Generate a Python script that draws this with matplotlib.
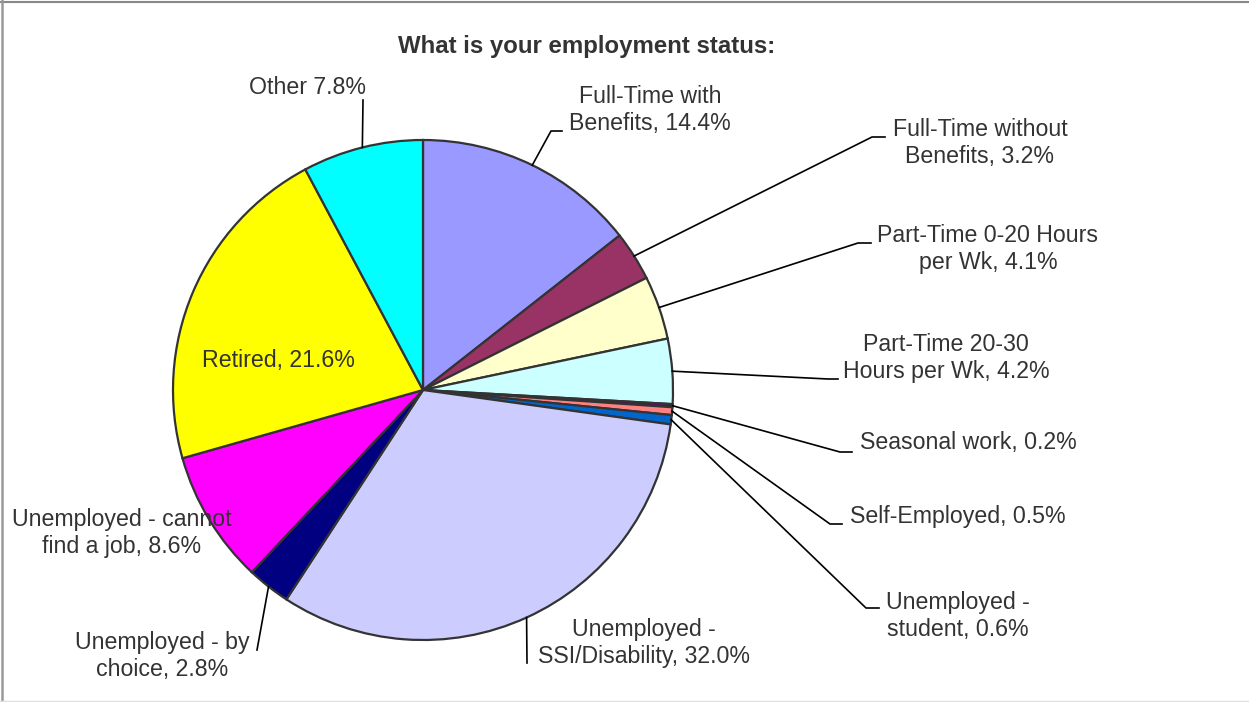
import matplotlib.pyplot as plt
import numpy as np
from matplotlib.lines import Line2D

plt.rcParams['font.family'] = ['Liberation Sans', 'DejaVu Sans']

# data
labels = ["Full-Time with\nBenefits, 14.4%", "Full-Time without\nBenefits, 3.2%",
          "Part-Time 0-20 Hours\nper Wk, 4.1%", "Part-Time 20-30\nHours per Wk, 4.2%",
          "Seasonal work, 0.2%", "Self-Employed, 0.5%", "Unemployed -\nstudent, 0.6%",
          "Unemployed -\nSSI/Disability, 32.0%", "Unemployed - by\nchoice, 2.8%",
          "Unemployed - cannot\nfind a job, 8.6%", "Retired, 21.6%", "Other 7.8%"]
values = [14.4, 3.2, 4.1, 4.2, 0.2, 0.5, 0.6, 32.0, 2.8, 8.6, 21.6, 7.8]
colors = ["#9999FF", "#993366", "#FFFFCC", "#CCFFFF", "#660066", "#FF8080",
          "#0066CC", "#CCCCFF", "#000080", "#FF00FF", "#FFFF00", "#00FFFF"]

W, H = 1249, 702
cx, cy, R = 423, 390, 250   # pixel coords of pie


def Y(py):
    return H - py


# label layout: text pos (px), leader points after wedge edge (px) or None
layout = [
    ((650, 110), [(551, 131), (562, 131)]),
    ((980, 143), [(872, 137), (885, 137)]),
    ((988, 249), [(858, 243), (871, 243)]),
    ((946, 358), [(828, 379), (838, 379)]),
    ((968, 443), [(840, 452), (852, 452)]),
    ((958, 517), [(830, 524), (842, 524)]),
    ((958, 616), [(866, 608), (879, 608)]),
    ((644, 643), [(527, 663)]),
    ((162, 656), [(257, 650)]),
    ((122, 533), None),
    ((278, 361), None),
    ((308, 88), [(363, 100)]),
]

fig = plt.figure(figsize=(W / 100, H / 100), dpi=100)
ax = fig.add_axes([0, 0, 1, 1])
ax.pie(values, colors=colors, startangle=90, counterclock=False,
       center=(cx, Y(cy)), radius=R, frame=True,
       wedgeprops=dict(edgecolor="#333333", linewidth=1.6))
ax.set_xlim(0, W)
ax.set_ylim(0, H)
ax.set_aspect("equal")
ax.axis("off")

txt = "#333333"
cum = 0
for lab, v, (tpos, pts) in zip(labels, values, layout):
    mid = 90 - 360 * (cum + v / 2) / 100
    cum += v
    if pts:
        sx = cx + R * np.cos(np.radians(mid))
        sy = Y(cy) + R * np.sin(np.radians(mid))
        xs = [sx] + [p[0] for p in pts]
        ys = [sy] + [Y(p[1]) for p in pts]
        ax.plot(xs, ys, color="black", lw=1.2, zorder=3)
    ax.text(tpos[0], Y(tpos[1]), lab, ha="center", va="center",
            fontsize=16.7, color=txt, linespacing=1.27, zorder=4)

ax.text(587, Y(47), "What is your employment status:", ha="center", va="center",
        fontsize=17.3, fontweight="bold", color=txt)

# chart frame
fig.add_artist(Line2D([0, 1], [1 - 1.5 / H, 1 - 1.5 / H], color="#888888", lw=1.5))
fig.add_artist(Line2D([1.5 / W, 1.5 / W], [0, 1], color="#999999", lw=1.8))
fig.add_artist(Line2D([0, 1], [1.5 / H, 1.5 / H], color="#e0e0e0", lw=1))

fig.savefig("out.png", dpi=100)
